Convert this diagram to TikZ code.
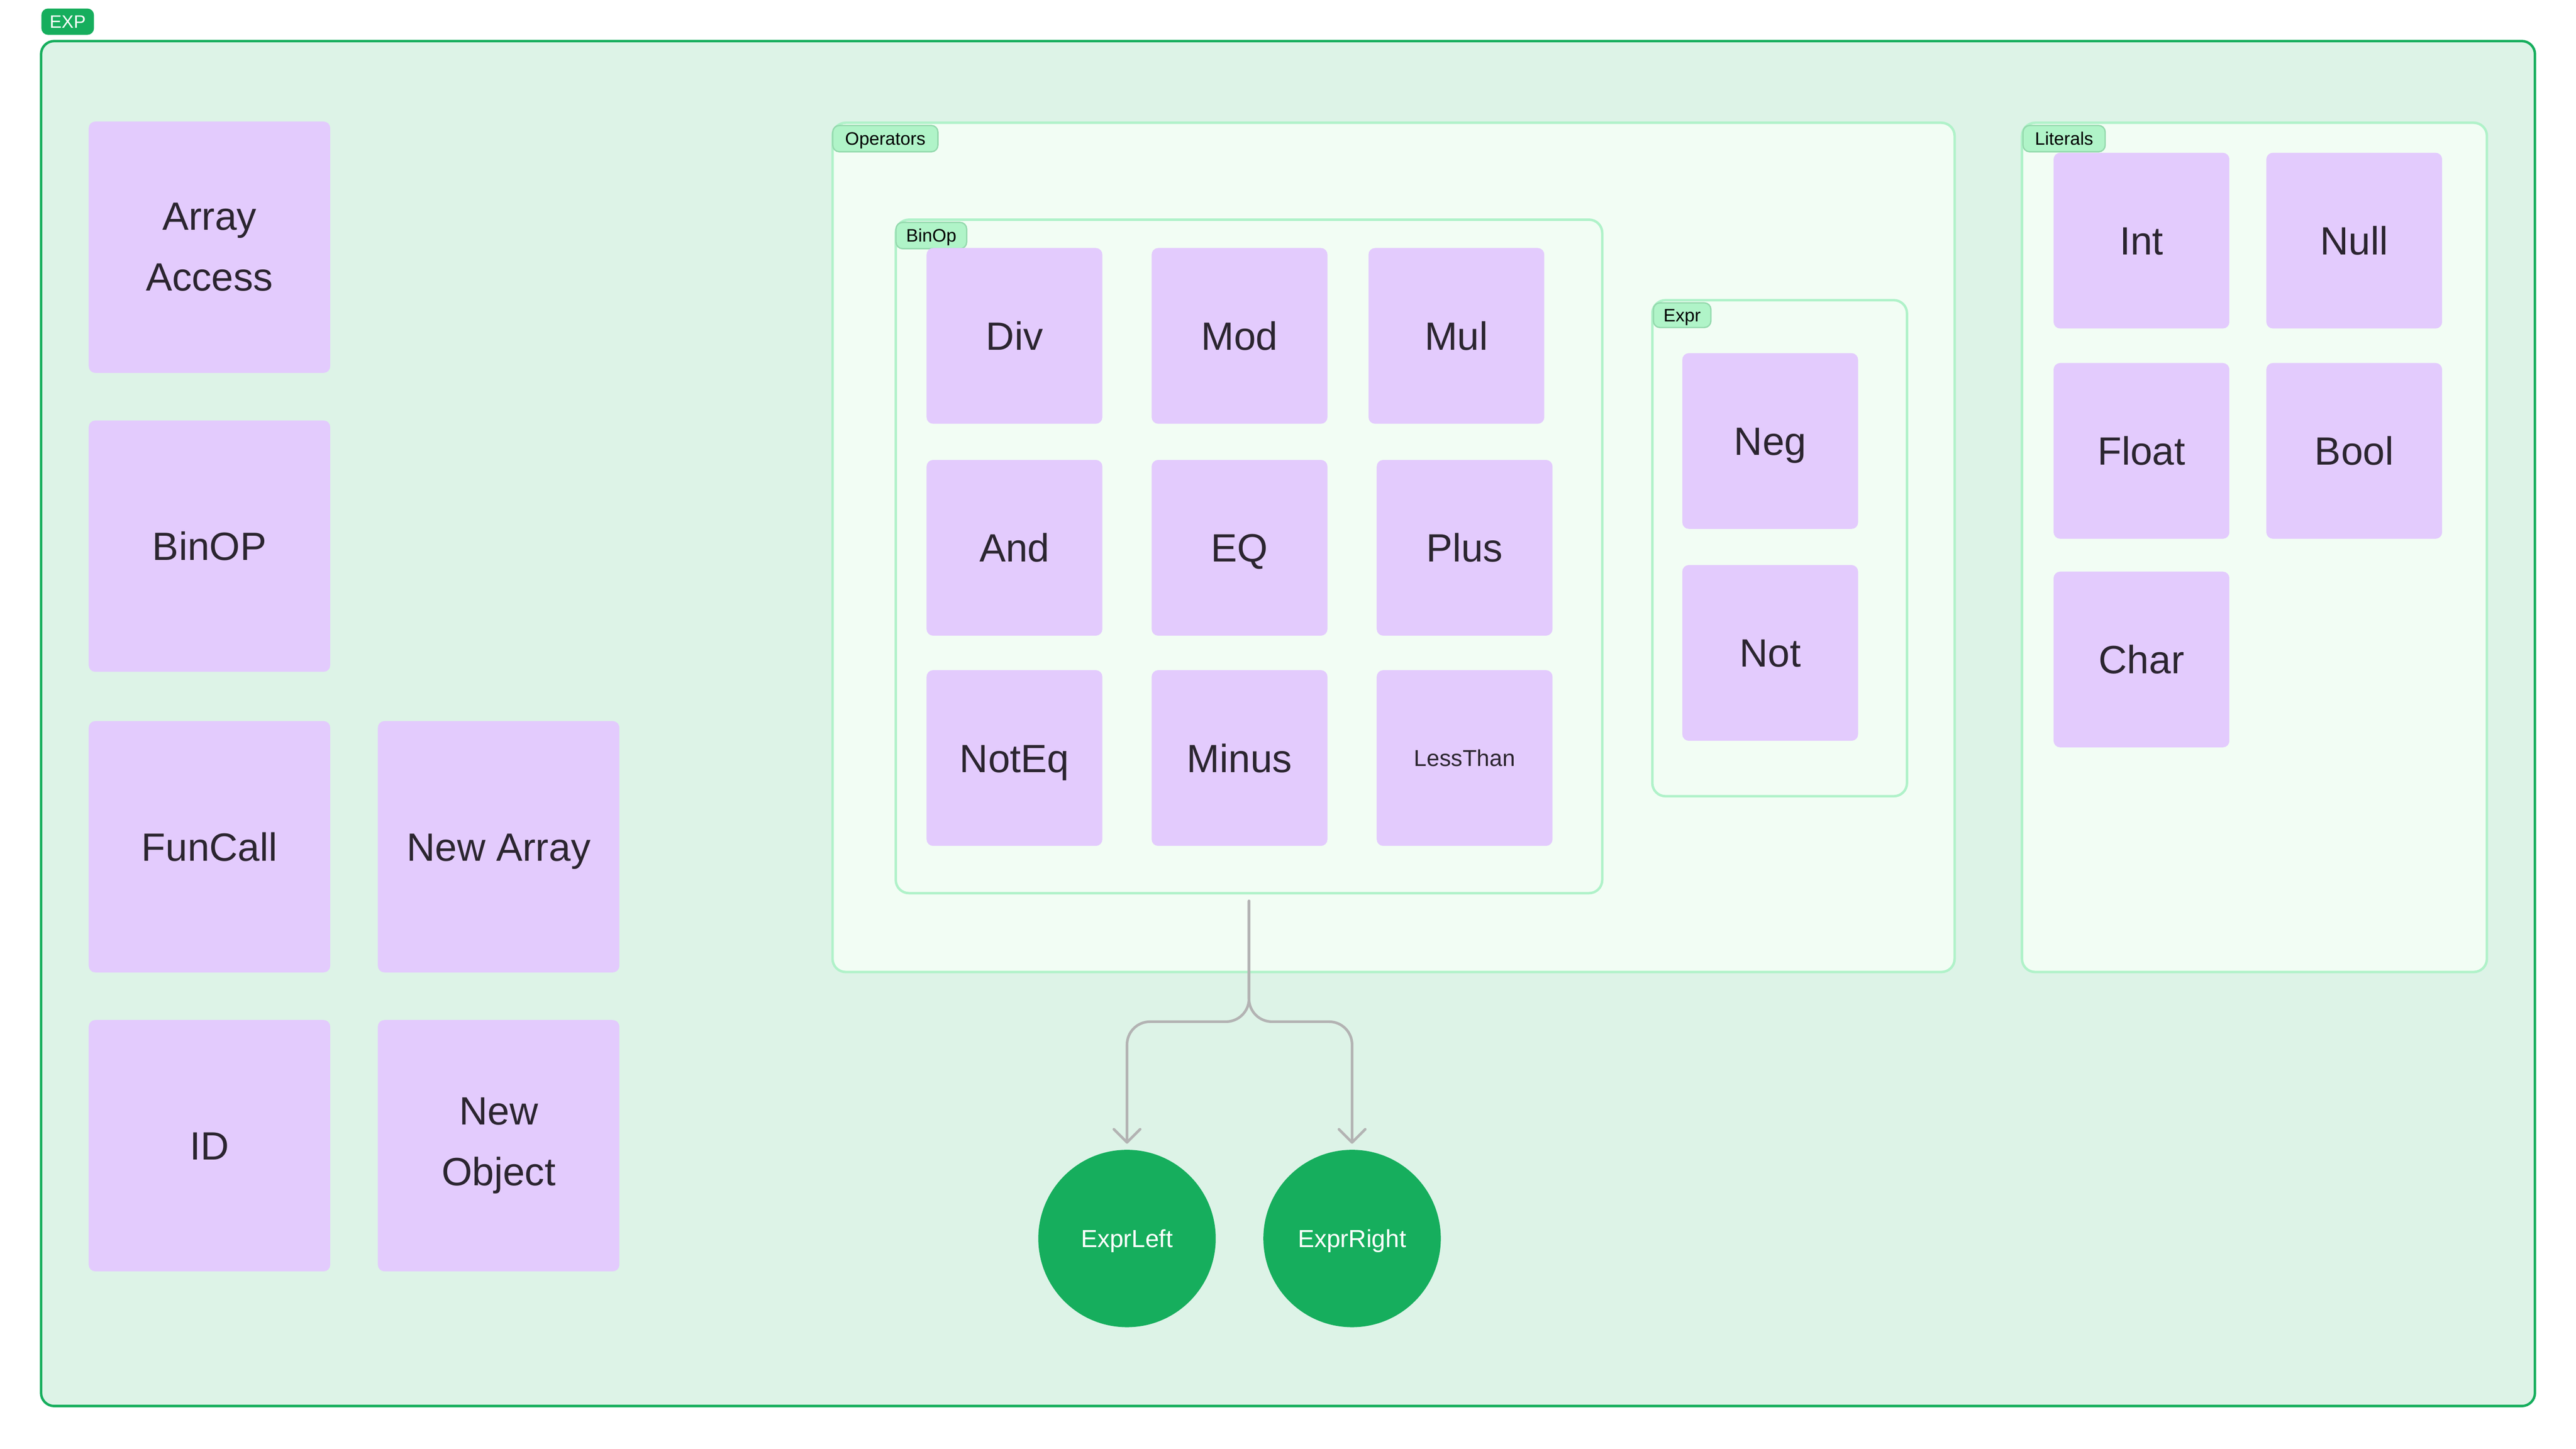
\documentclass[tikz,border=0pt]{standalone}
\usepackage{fontspec}
\setmainfont{Liberation Sans}
\usetikzlibrary{arrows.meta}
\definecolor{outerfill}{HTML}{DDF3E7}
\definecolor{outerline}{HTML}{16AE5D}
\definecolor{innerfill}{HTML}{F2FDF4}
\definecolor{innerline}{HTML}{B0F2C9}
\definecolor{tagfill}{HTML}{B0F4C8}
\definecolor{tagline}{HTML}{94D9AD}
\definecolor{boxfill}{HTML}{E3CBFD}
\definecolor{boxtext}{HTML}{2B2530}
\definecolor{connline}{HTML}{B3B3B3}
\tikzset{
  outerfr/.style={draw=outerline, fill=outerfill, line width=1.5pt, rounded corners=8pt},
  innerfr/.style={draw=innerline, fill=innerfill, line width=1.5pt, rounded corners=8pt, anchor=north west, inner sep=0pt},
  tag/.style={draw=tagline, fill=tagfill, line width=0.8pt, rounded corners=4pt, anchor=north west, inner sep=0pt, minimum height=16pt, font=\fontsize{11}{12}\selectfont, text=black, text height=7.9pt, text depth=0pt},
  pbox/.style={fill=boxfill, rounded corners=4pt, inner sep=0pt, minimum width=147pt, minimum height=153pt, align=center, text=boxtext, font=\fontsize{24}{37}\selectfont},
  oneline/.style={text height=17.2pt, text depth=0pt},
  sbox/.style={pbox, oneline, minimum width=107pt, minimum height=107pt},
  endpt/.style={circle, fill=outerline, inner sep=0pt, minimum size=108pt, text=white, font=\fontsize{15}{18}\selectfont, text height=10.7pt, text depth=0pt},
  conn/.style={draw=connline, line width=1.6pt, rounded corners=14pt, line cap=round, -{Straight Barb[length=8pt,width=16pt,round]}, shorten >=3.5pt},
}
\begin{document}
\begin{tikzpicture}[x=1pt,y=-1pt]
\useasboundingbox (0,0) rectangle (1568,882);
\fill[white] (0,0) rectangle (1568,882);
% outer frame
\draw[outerfr] (25,25) rectangle (1543,856);
\node[fill=outerline, rounded corners=4pt, anchor=north west, inner sep=0pt, minimum width=32pt, minimum height=16pt, text=white, font=\fontsize{11}{12}\selectfont, text height=7.9pt, text depth=0pt] (explbl) at (25,5) {EXP};
% inner frames
\node[innerfr, minimum width=683pt, minimum height=517pt] (ops) at (506,74) {};
\node[tag, minimum width=64pt] (opslbl) at (506.5,76) {Operators};
\node[innerfr, minimum width=430pt, minimum height=410pt] (binop) at (544.5,133) {};
\node[tag, minimum width=43pt] (binoplbl) at (545,135) {BinOp};
\node[innerfr, minimum width=155pt, minimum height=302pt] (expr) at (1005,182) {};
\node[tag, minimum width=35pt, minimum height=15pt] (exprlbl) at (1006,184) {Expr};
\node[innerfr, minimum width=283pt, minimum height=517pt] (lits) at (1230,74) {};
\node[tag, minimum width=50pt] (litslbl) at (1231,76) {Literals};
% left column
\node[pbox] (aa) at (127.5,150.5) {Array\\Access};
\node[pbox, oneline] (bo) at (127.5,332.5) {BinOP};
\node[pbox, oneline] (fc) at (127.5,515.5) {FunCall};
\node[pbox, oneline] (na) at (303.5,515.5) {New Array};
\node[pbox, oneline] (id) at (127.5,697.5) {ID};
\node[pbox] (no) at (303.5,697.5) {New\\Object};
% binop grid
\node[sbox] (div) at (617.5,204.5) {Div};
\node[sbox] (mod) at (754.5,204.5) {Mod};
\node[sbox] (mul) at (886.5,204.5) {Mul};
\node[sbox] (and) at (617.5,333.5) {And};
\node[sbox] (eq) at (754.5,333.5) {EQ};
\node[sbox] (plus) at (891.5,333.5) {Plus};
\node[sbox] (neq) at (617.5,461.5) {NotEq};
\node[sbox] (minus) at (754.5,461.5) {Minus};
\node[sbox, font=\fontsize{14}{16}\selectfont, text height=10pt] (lt) at (891.5,461.5) {LessThan};
% expr
\node[sbox] (neg) at (1077.5,268.5) {Neg};
\node[sbox] (not) at (1077.5,397.5) {Not};
% literals
\node[sbox] (int) at (1303.5,146.5) {Int};
\node[sbox] (null) at (1433,146.5) {Null};
\node[sbox] (flt) at (1303.5,274.5) {Float};
\node[sbox] (bool) at (1433,274.5) {Bool};
\node[sbox] (chr) at (1303.5,401.5) {Char};
% endpoints
\node[endpt] (el) at (686,754) {ExprLeft};
\node[endpt] (er) at (823,754) {ExprRight};
% connectors
\coordinate (s) at ([yshift=-4pt]binop.south);
\coordinate (hy) at (0,622);
\draw[conn] (s) -- (s |- hy) -- (el.north |- hy) -- (el.north);
\draw[conn] (s) -- (s |- hy) -- (er.north |- hy) -- (er.north);
\end{tikzpicture}
\end{document}
